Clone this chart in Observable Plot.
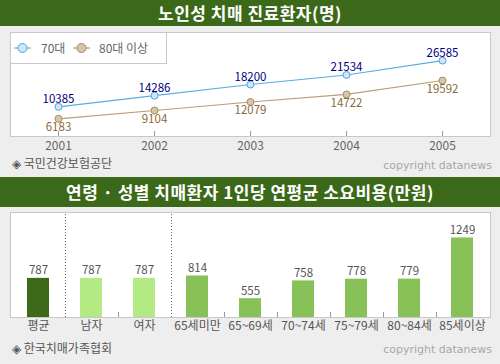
<!DOCTYPE html>
<html><head><meta charset="utf-8">
<script src="https://cdn.jsdelivr.net/npm/d3@7"></script>
<script src="https://cdn.jsdelivr.net/npm/@observablehq/plot@0.6"></script>
<style>
html,body{margin:0;padding:0;background:#eeeeee;}
#wrap{position:relative;width:500px;height:364px;background:#eeeeee;font-family:"Noto Sans CJK KR","Noto Sans",sans-serif;overflow:hidden;}
.title{position:absolute;left:0;width:500px;background:#3c6919;color:#fff;font-weight:bold;font-size:17px;text-align:center;letter-spacing:0.5px;}
.src{position:absolute;left:12px;font-size:12px;line-height:18px;color:#555;}
.copy{position:absolute;right:8px;font-family:"DejaVu Sans",sans-serif;font-size:11px;line-height:16px;color:#a8a8a8;}
.chart{position:absolute;left:0;}
.legend{position:absolute;left:10px;top:32px;width:155px;height:30px;background:#fff;border:1px solid #c8c8c8;}
.legend .item{position:absolute;top:6px;font-size:12px;line-height:18px;color:#666;}
.legend svg{position:absolute;}
</style>
</head><body>
<div id="wrap">
  <div class="title" style="top:0;height:26px;line-height:26px;">노인성 치매 진료환자(명)</div>
  <div class="chart" id="c1" style="top:26px;"></div>
  <div class="legend" id="legend"></div>
  <div class="src" style="top:154px;">◈ 국민건강보험공단</div>
  <div class="copy" style="top:158px;">copyright datanews</div>
  <div class="title" style="top:177px;height:30px;line-height:30px;">연령 · 성별 치매환자 1인당 연평균 소요비용(만원)</div>
  <div class="chart" id="c2" style="top:207px;"></div>
  <div class="src" style="top:339px;">◈ 한국치매가족협회</div>
  <div class="copy" style="top:342px;">copyright datanews</div>
</div>
<script>
// ---- data: chart 1 ----
const years = ["2001", "2002", "2003", "2004", "2005"];
const seriesNames = ["70대", "80대 이상"];
const values70 = [10385, 14286, 18200, 21534, 26585];
const values80 = [6183, 9104, 12079, 14722, 19592];

// ---- data: chart 2 ----
const costCategories = ["평균", "남자", "여자", "65세미만", "65~69세", "70~74세", "75~79세", "80~84세", "85세이상"];
const costValues = [787, 787, 787, 814, 555, 758, 778, 779, 1249];
const costGroups = ["평균", "성별", "성별", "연령", "연령", "연령", "연령", "연령", "연령"];
const separatorsAfter = ["평균", "여자"];

const FONT = '"Noto Sans CJK KR","Noto Sans",sans-serif';
const c70 = {line: "#5aaee2", fill: "#d0e6f8", stroke: "#4ea6dc", text: "#000080"};
const c80 = {line: "#b89e7a", fill: "#d8c6aa", stroke: "#a98a5e", text: "#8a6a3c"};

const rows70 = years.map((y, i) => ({year: y, value: values70[i]}));
const rows80 = years.map((y, i) => ({year: y, value: values80[i]}));

// custom mark: short upward ticks from the frame bottom at given x positions
function bottomTicks(getXs, len, stroke) {
  return (index, scales, values, dims) => {
    const g = d3.create("svg:g").attr("stroke", stroke).attr("stroke-width", 1);
    const yb = dims.height - dims.marginBottom;
    for (const x of getXs(scales.x)) {
      g.append("line").attr("x1", x).attr("x2", x).attr("y1", yb).attr("y2", yb - len);
    }
    return g.node();
  };
}
function dottedLines(getXs, stroke) {
  return (index, scales, values, dims) => {
    const g = d3.create("svg:g").attr("stroke", stroke).attr("stroke-width", 1).attr("stroke-dasharray", "1,2");
    const yt = dims.marginTop + 2, yb = dims.height - dims.marginBottom;
    for (const x of getXs(scales.x)) {
      g.append("line").attr("x1", x).attr("x2", x).attr("y1", yt).attr("y2", yb);
    }
    return g.node();
  };
}

const chart1 = Plot.plot({
  width: 500, height: 150,
  marginTop: 6, marginBottom: 40, marginLeft: 10, marginRight: 10,
  style: {background: "transparent", fontFamily: FONT, fontSize: "11px"},
  x: {type: "point", domain: years, padding: 0.5, label: null, axis: null},
  y: {domain: [0, 36400], axis: null},
  marks: [
    Plot.frame({fill: "white", stroke: "#c8c8c8"}),
    bottomTicks(x => years.map(y => Math.round(x(y)) + 0.5), 5, "#999"),
    Plot.axisX({tickSize: 0, tickPadding: 5, fill: "#666", fontSize: 12}),
    Plot.line(rows70, {x: "year", y: "value", stroke: c70.line, strokeWidth: 1.2}),
    Plot.line(rows80, {x: "year", y: "value", stroke: c80.line, strokeWidth: 1.2}),
    Plot.dot(rows70, {x: "year", y: "value", r: 3.5, fill: c70.fill, stroke: c70.stroke, strokeWidth: 1}),
    Plot.dot(rows80, {x: "year", y: "value", r: 3.5, fill: c80.fill, stroke: c80.stroke, strokeWidth: 1}),
    Plot.text(rows70, {x: "year", y: "value", text: d => String(d.value), dy: -4, lineAnchor: "bottom", fill: c70.text, fontSize: 11.5}),
    Plot.text(rows80, {x: "year", y: "value", text: d => String(d.value), dy: 4, lineAnchor: "top", fill: c80.text, fontSize: 11.5})
  ]
});
document.getElementById("c1").appendChild(chart1);

// legend
const legend = d3.select("#legend");
const legendItems = [
  {name: seriesNames[0], c: c70, sx: 3, tx: 30},
  {name: seriesNames[1], c: c80, sx: 62, tx: 88}
];
for (const it of legendItems) {
  const s = legend.append("svg").attr("width", 17).attr("height", 12)
    .style("left", it.sx + "px").style("top", "9px");
  s.append("line").attr("x1", 0).attr("x2", 17).attr("y1", 6).attr("y2", 6).attr("stroke", it.c.stroke);
  s.append("circle").attr("cx", 8.5).attr("cy", 6).attr("r", 4.5).attr("fill", it.c.fill).attr("stroke", it.c.stroke);
  legend.append("div").attr("class", "item").style("left", it.tx + "px").text(it.name);
}

const costRows = costCategories.map((c, i) => ({cat: c, value: costValues[i], group: costGroups[i]}));

function boundaries(x, filterFn) {
  const bw = x.bandwidth();
  const out = [];
  for (let i = 0; i < costCategories.length - 1; i++) {
    if (!filterFn(costCategories[i])) continue;
    const a = x(costCategories[i]) + bw / 2, b = x(costCategories[i + 1]) + bw / 2;
    out.push(Math.round((a + b) / 2) + 0.5);
  }
  return out;
}

const chart2 = Plot.plot({
  width: 500, height: 130,
  marginTop: 5, marginBottom: 20, marginLeft: 10, marginRight: 10,
  style: {background: "transparent", fontFamily: FONT, fontSize: "12px"},
  x: {type: "band", domain: costCategories, paddingInner: 0.5875, paddingOuter: 0.29375, label: null, axis: null},
  y: {domain: [340, 1540], clamp: true, axis: null},
  color: {domain: ["평균", "성별", "연령"], range: ["#3c6a19", "#b4ea84", "#88c158"]},
  marks: [
    Plot.frame({fill: "white", stroke: "#c8c8c8"}),
    dottedLines(x => boundaries(x, c => separatorsAfter.includes(c)), "#666"),
    bottomTicks(x => boundaries(x, c => !separatorsAfter.includes(c)), 5, "#999"),
    Plot.barY(costRows, {x: "cat", y: "value", fill: "group"}),
    Plot.text(costRows, {x: "cat", y: "value", text: d => String(d.value), dy: -4, lineAnchor: "bottom", fill: "#555", fontSize: 11.5}),
    Plot.axisX({tickSize: 0, tickPadding: 4, fill: "#555", fontSize: 12})
  ]
});
document.getElementById("c2").appendChild(chart2);
</script>
</body></html>
